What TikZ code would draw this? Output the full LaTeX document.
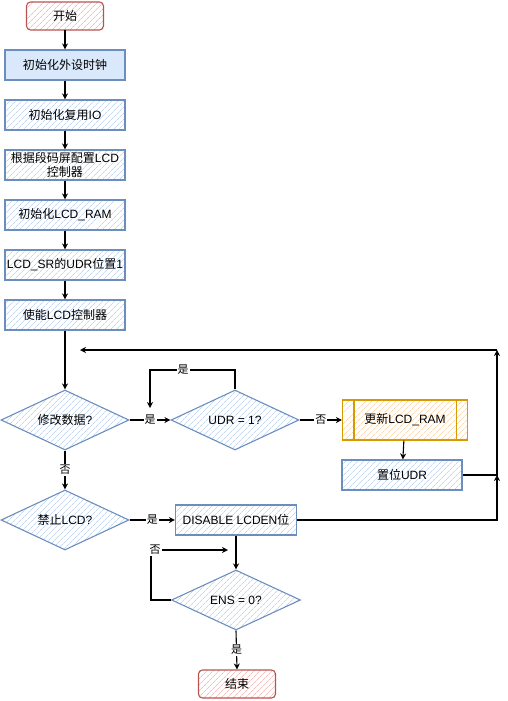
\documentclass[tikz,border=0pt]{standalone}
\usepackage{fontspec}
\setmainfont{Liberation Sans}
\newfontfamily\cjk{Noto Sans CJK SC}
\usetikzlibrary{shapes.geometric,patterns.meta,arrows.meta,calc}
\definecolor{bstroke}{HTML}{6C8EBF}
\definecolor{bfill}{HTML}{DAE8FC}
\definecolor{bhatch}{HTML}{C3D6F2}
\definecolor{rstroke}{HTML}{B85450}
\definecolor{rhatch}{HTML}{F4BCBA}
\definecolor{ostroke}{HTML}{D79B00}
\definecolor{ohatch}{HTML}{FFD8B0}
\tikzset{
  base/.style={draw, line width=1.1pt, inner sep=1pt, align=center},
  hatchb/.style={pattern={Lines[angle=45,distance=4pt,line width=0.7pt]}, pattern color=bhatch},
  proc/.style={base, draw=bstroke, hatchb, minimum width=120pt, minimum height=30pt},
  solidproc/.style={base, draw=bstroke, fill=bfill, minimum width=120pt, minimum height=30pt},
  term/.style={base, draw=rstroke, rounded corners=4pt, pattern={Lines[angle=45,distance=4pt,line width=0.7pt]}, pattern color=rhatch, minimum width=77pt, minimum height=28pt},
  dec/.style={base, draw=bstroke, hatchb, shape=diamond, aspect=2, inner sep=0pt, minimum width=128pt, minimum height=60pt},
  upd/.style={base, draw=ostroke, pattern={Lines[angle=45,distance=4pt,line width=0.7pt]}, pattern color=ohatch, minimum width=125pt, minimum height=40pt},
  arr/.style={draw, line width=1.1pt, -{Stealth[length=6pt,width=6pt]}},
  lbl/.style={fill=white, inner sep=1pt, font=\cjk\fontsize{11}{13}\selectfont}
}
\begin{document}
\begin{tikzpicture}[x=1pt,y=-1pt,font=\fontsize{12}{14}\selectfont]
\useasboundingbox (0,0) rectangle (507,701);
\node[term] (start) at (65,16) {\cjk 开始};
\node[solidproc] (b1) at (65,65) {\cjk 初始化外设时钟};
\node[proc] (b2) at (65,115) {{\cjk 初始化复用}IO};
\node[proc] (b3) at (65,165) {{\cjk 根据段码屏配置}LCD\\{\cjk 控制器}};
\node[proc] (b4) at (65,215) {{\cjk 初始化}LCD\_RAM};
\node[proc] (b5) at (65,265) {LCD\_SR{\cjk 的}UDR{\cjk 位置}1};
\node[proc] (b6) at (65,315) {{\cjk 使能}LCD{\cjk 控制器}};
\node[dec] (d1) at (65,420) {{\cjk 修改数据}?};
\node[dec] (d2) at (235,420) {UDR = 1?};
\node[upd] (up) at (405,420) {{\cjk 更新}LCD\_RAM};
\draw[ostroke, line width=1.1pt] ($(up.north west)+(12,0)$) -- ($(up.south west)+(12,0)$);
\draw[ostroke, line width=1.1pt] ($(up.north east)+(-12,0)$) -- ($(up.south east)+(-12,0)$);
\node[proc] (set) at (402,475) {{\cjk 置位}UDR};
\node[dec] (d3) at (65,520) {{\cjk 禁止}LCD?};
\node[proc, minimum width=121pt] (dis) at (236,520) {DISABLE LCDEN{\cjk 位}};
\node[dec, minimum width=129pt] (d4) at (236,600) {ENS = 0?};
\node[term] (end) at (237,684) {\cjk 结束};

\coordinate (loopA) at (235,370);
\coordinate (loopB) at (150,370);
\coordinate (loopC) at (150,408);
\coordinate (r1) at (497,475);
\coordinate (r2) at (497,350);
\coordinate (r3) at (80,350);
\coordinate (r4) at (497,520);
\coordinate (e1) at (151,600);
\coordinate (e2) at (151,550);
\coordinate (e3) at (228,550);

\draw[arr] (start) -- (b1);
\draw[arr] (b1) -- (b2);
\draw[arr] (b2) -- (b3);
\draw[arr] (b3) -- (b4);
\draw[arr] (b4) -- (b5);
\draw[arr] (b5) -- (b6);
\draw[arr] (b6) -- (d1);
\draw[arr] (d1.east) -- node[lbl] (l1) {是} (d2.west);
\draw[arr] (d2.north) -- (loopA) -- (loopB) -- (loopC);
\node[lbl] (l2) at (183,370) {是};
\draw[arr] (d2.east) -- node[lbl] (l3) {否} (up.west);
\draw[arr] (up) -- (set);
\draw[arr] (set.east) -| (r2);
\draw[arr] (r2) -- (r3);
\draw[arr] (dis.east) -- (r4) -- (r1);
\draw[arr] (d1.south) -- node[lbl] (l4) {否} (d3.north);
\draw[arr] (d3.east) -- node[lbl] (l5) {是} (dis.west);
\draw[arr] (dis) -- (d4);
\draw[arr] (d4.west) -- (e1) -- (e2) -- (e3);
\node[lbl] (l6) at (155,550) {否};
\draw[arr] (d4.south) -- node[lbl] (l7) {是} (end.north);
\end{tikzpicture}
\end{document}
